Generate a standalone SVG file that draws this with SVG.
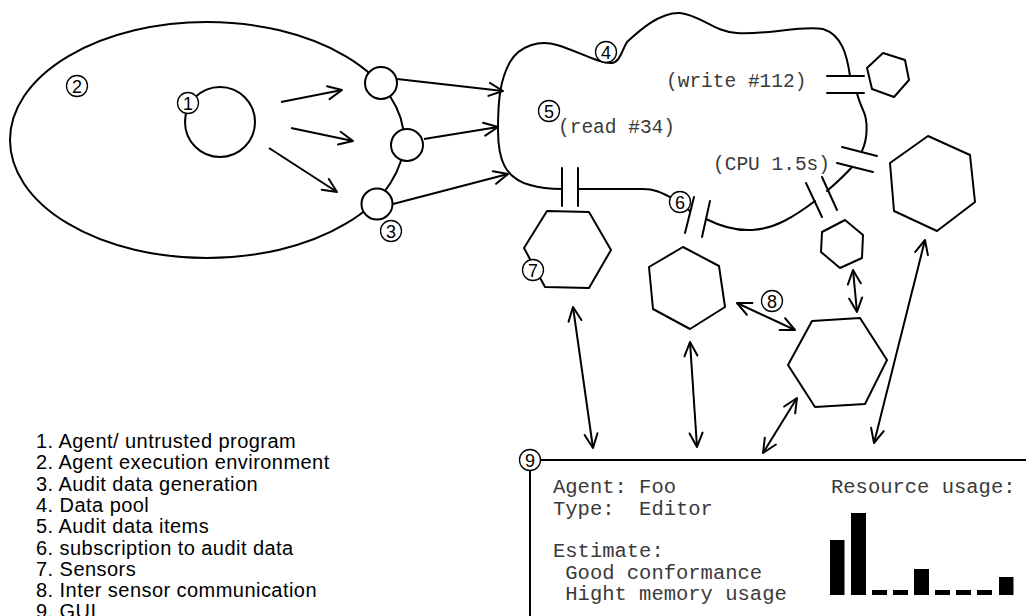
<svg xmlns="http://www.w3.org/2000/svg" width="1026" height="616" viewBox="0 0 1026 616">
<style>
.s{fill:none;stroke:#000;stroke-width:2;stroke-linecap:round;stroke-linejoin:round}
.n{fill:#fff;stroke:#000;stroke-width:2;stroke-linejoin:round}
.lc{fill:#fff;stroke:#000;stroke-width:1.3}
.lt{font-family:"Liberation Sans",Arial,sans-serif;font-size:18px;text-anchor:middle;fill:#000}
.mono{font-family:"Liberation Mono","Courier New",monospace;fill:#3a3a3a;white-space:pre}
.leg{font-family:"Liberation Sans",Arial,sans-serif;font-size:20px;letter-spacing:0.45px;fill:#000}
.a{fill:none;stroke:#000;stroke-width:2;marker-end:url(#ah)}
.d{fill:none;stroke:#000;stroke-width:2;marker-end:url(#ah);marker-start:url(#ah)}
</style>
<defs>
<marker id="ah" viewBox="-16 -8 18 16" markerWidth="18" markerHeight="16" refX="0" refY="0" orient="auto-start-reverse" markerUnits="userSpaceOnUse">
<path d="M-14,-6.5 L0,0 L-14,6.5" fill="none" stroke="#000" stroke-width="2" stroke-linecap="round" stroke-linejoin="round"/>
</marker>
</defs>
<rect width="1026" height="616" fill="#fff"/>

<g id="env">
<ellipse cx="207" cy="140" rx="197" ry="118" class="s"/>
</g>
<g id="agent">
<circle cx="220" cy="122" r="35" class="s"/>
</g>
<g id="gen">
<circle cx="381" cy="83" r="16" class="n"/>
<circle cx="407" cy="145" r="16" class="n"/>
<circle cx="377" cy="204" r="15.5" class="n"/>
</g>

<g id="pool">
<path class="s" d="M578,189 L643,189 C655,189 662,193 672,198 L690,211"/>
<path class="s" d="M706,219 C720,226 735,231 752,230 C775,229 795,216 815,201"/>
<path class="s" d="M827,191 C835,184 846,174 852,167"/>
<path class="s" d="M862,151 C868,138 868,120 863,110 C860,103 858,98 857,93"/>
<path class="s" d="M850,76 C847,55 842,35 823,29 C800,25 770,35 737,33 C715,32 700,15 680,13 C660,12 640,30 627,42 C622,50 620,62 612,63 C600,64 580,52 557,45 C540,40 520,45 510,62 C500,80 498,100 498,130 C498,160 505,178 530,185 C540,188 550,189 562,189"/>
<text class="mono" x="666" y="87" font-size="19.5">(write #112)</text>
<text class="mono" x="558" y="133" font-size="19.5">(read #34)</text>
<text class="mono" x="713" y="170" font-size="19.5">(CPU 1.5s)</text>
</g>

<g id="subscriptions">
<path class="s" d="M562,168 L562,206 M578,168 L578,206"/>
<path class="s" d="M827,76 L864,76 M827,93 L864,93"/>
<path class="s" d="M842,147 L877,156 M837,163 L873,172"/>
<path class="s" d="M806,183 L822,217 M822,177 L837,210"/>
<path class="s" d="M694,197 L685,233 M710,201 L702,237"/>
</g>

<g id="sensor7"><polygon class="n" points="547,211 589,212 611,250 589,288 545,287 524,248"/></g>
<g id="sensor6"><polygon class="n" points="683,247 719,266 725,307 690,329 653,309 649,267"/></g>
<g id="sensor8"><polygon class="n" points="812,321 860,318 887,360 865,404 815,407 788,365"/></g>
<g id="sensorSmall"><polygon class="n" points="822,232 845,220 863,235 862,258 840,268 821,252"/></g>
<g id="sensorWrite"><polygon class="n" points="867,68 883,53 905,60 909,80 894,97 872,89"/></g>
<g id="sensorBig"><polygon class="n" points="890,163 928,136 970,155 975,202 937,231 894,211"/></g>

<g id="connectors">
<path class="a" d="M281,102 L342,90"/>
<path class="a" d="M291,128 L353,141"/>
<path class="a" d="M269,148 L337,192"/>
<path class="a" d="M397,79 L503,91"/>
<path class="a" d="M424,139 L498,127"/>
<path class="a" d="M393,204 L508,174"/>
<path class="d" d="M573,307 L593,448"/>
<path class="d" d="M690,342 L697,447"/>
<path class="d" d="M737,303 L795,330"/>
<path class="d" d="M797,398 L763,453"/>
<path class="d" d="M853,270 L857,312"/>
<path class="d" d="M925,240 L874,443"/>
</g>

<g id="gui">
<path class="s" d="M530,616 L530,460 L1026,460"/>
<text class="mono" font-size="20.5" x="553" y="493">Agent: Foo</text>
<text class="mono" font-size="20.5" x="553" y="514.5">Type:  Editor</text>
<text class="mono" font-size="20.5" x="553" y="557">Estimate:</text>
<text class="mono" font-size="20.5" x="553" y="578.5"> Good conformance</text>
<text class="mono" font-size="20.5" x="553" y="600"> Hight memory usage</text>
<text class="mono" font-size="20.5" x="831" y="493">Resource usage:</text>
<g fill="#000">
<rect x="830" y="540" width="14.5" height="55"/>
<rect x="851" y="513" width="15" height="82"/>
<rect x="872" y="590" width="15" height="5"/>
<rect x="893" y="590" width="15" height="5"/>
<rect x="914" y="569" width="15" height="26"/>
<rect x="935" y="590" width="15" height="5"/>
<rect x="956" y="590" width="15" height="5"/>
<rect x="977" y="590" width="15" height="5"/>
<rect x="999" y="577" width="14.5" height="18"/>
</g>
</g>

<g id="labels">
<g><circle class="lc" cx="188" cy="103" r="10.5"/><text class="lt" x="188" y="109.5">1</text></g>
<g><circle class="lc" cx="77" cy="86" r="10.5"/><text class="lt" x="77" y="92.5">2</text></g>
<g><circle class="lc" cx="391" cy="231" r="10.5"/><text class="lt" x="391" y="237.5">3</text></g>
<g><circle class="lc" cx="606" cy="52" r="10.5"/><text class="lt" x="606" y="58.5">4</text></g>
<g><circle class="lc" cx="549" cy="111" r="10.5"/><text class="lt" x="549" y="117.5">5</text></g>
<g><circle class="lc" cx="680" cy="202" r="10.5"/><text class="lt" x="680" y="208.5">6</text></g>
<g><circle class="lc" cx="533" cy="270" r="10.5"/><text class="lt" x="533" y="276.5">7</text></g>
<g><circle class="lc" cx="772" cy="301" r="10.5"/><text class="lt" x="772" y="307.5">8</text></g>
<g><circle class="lc" cx="530" cy="460" r="10.5"/><text class="lt" x="530" y="466.5">9</text></g>
</g>

<g id="legend" class="leg">
<text x="36" y="448">1. Agent/ untrusted program</text>
<text x="36" y="469.3">2. Agent execution environment</text>
<text x="36" y="490.6">3. Audit data generation</text>
<text x="36" y="511.9">4. Data pool</text>
<text x="36" y="533.2">5. Audit data items</text>
<text x="36" y="554.5">6. subscription to audit data</text>
<text x="36" y="575.8">7. Sensors</text>
<text x="36" y="597.1">8. Inter sensor communication</text>
<text x="36" y="618.4">9. GUI</text>
</g>
</svg>
